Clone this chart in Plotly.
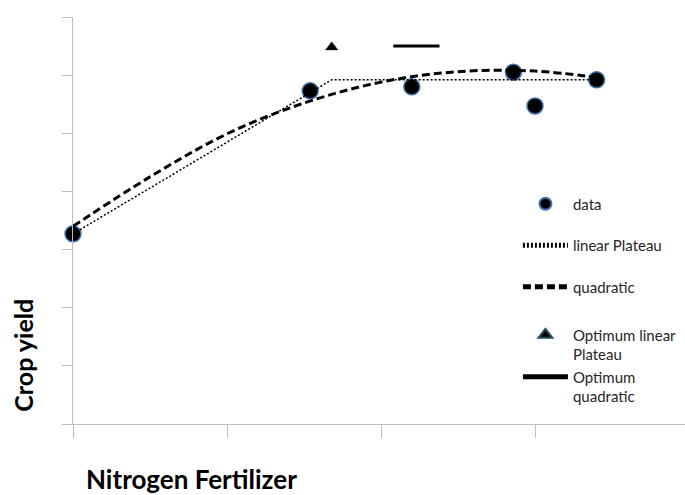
import plotly.graph_objects as go

# Observed yields at each nitrogen rate
n_rate = [0, 77, 110, 143, 150, 170]
yield_obs = [3.27, 5.73, 5.80, 6.05, 5.47, 5.92]

# Linear-plateau model: rising segment up to the join point, then flat
plateau_x = [0, 84, 170]
plateau_y = [3.27, 5.92, 5.92]

# Quadratic model curve
quad_x = [0, 25, 50, 75, 100, 125, 150, 170]
quad_y = [3.40, 4.25, 4.99, 5.52, 5.88, 6.06, 6.07, 5.96]

# Economic optima
opt_lp_x = [84]
opt_lp_y = [6.48]
opt_quad_x = [104, 119]
opt_quad_y = [6.50, 6.50]

FONT = "Lato"
AXIS_GREY = "#bdbdbd"
LEGEND_FONT = dict(family=FONT, size=15, color="#262626")

fig = go.Figure()

fig.add_trace(go.Scatter(
    x=n_rate, y=yield_obs, mode="markers", name="data",
    legendgroup="a", cliponaxis=False,
    marker=dict(size=16, color="black", line=dict(color="#3f72ae", width=1.5)),
))
fig.add_trace(go.Scatter(
    x=plateau_x, y=plateau_y, mode="lines", name="linear Plateau",
    legendgroup="b",
    line=dict(color="black", width=1.5, dash="2px,2px"),
))
fig.add_trace(go.Scatter(
    x=quad_x, y=quad_y, mode="lines", name="quadratic",
    legendgroup="c",
    line=dict(color="black", width=3, dash="8px,4px", shape="spline"),
))
fig.add_trace(go.Scatter(
    x=opt_lp_x, y=opt_lp_y, mode="markers", name="Optimum linear<br>Plateau",
    legendgroup="d", legend="legend2", cliponaxis=False,
    marker=dict(symbol="triangle-up", size=11, color="black",
                line=dict(color="#1f4e5a", width=0.5)),
))
fig.add_trace(go.Scatter(
    x=opt_quad_x, y=opt_quad_y, mode="lines", name="Optimum<br>quadratic",
    legendgroup="e", legend="legend2",
    line=dict(color="black", width=3),
))

axis_common = dict(
    showline=True, linecolor=AXIS_GREY, linewidth=1,
    ticks="outside", tickcolor=AXIS_GREY, tickwidth=1,
    showticklabels=False, showgrid=False, zeroline=False,
)

legend_common = dict(
    xanchor="left", yanchor="top", bgcolor="rgba(0,0,0,0)",
    valign="top", itemwidth=45, itemsizing="constant", font=LEGEND_FONT,
)

fig.update_layout(
    width=685, height=495,
    margin=dict(l=73, r=0, t=17, b=71),
    paper_bgcolor="white", plot_bgcolor="white",
    font=dict(family=FONT, color="#262626", size=15),
    xaxis=dict(range=[0, 198.7], dtick=50, tick0=0, ticklen=13, **axis_common),
    yaxis=dict(range=[0, 7], dtick=1, tick0=0, ticklen=10, **axis_common),
    showlegend=True,
    legend=dict(x=0.727, y=0.581, tracegroupgap=19, **legend_common),
    legend2=dict(x=0.727, y=0.259, tracegroupgap=0, **legend_common),
    annotations=[
        dict(text="<b>Nitrogen Fertilizer</b>", xref="paper", yref="paper",
             x=0.018, y=-0.135, xanchor="left", yanchor="middle",
             showarrow=False, font=dict(family=FONT, size=26, color="black")),
        dict(text="<b>Crop yield</b>", xref="paper", yref="paper",
             x=-0.082, y=0.170, xanchor="center", yanchor="middle",
             textangle=-90, showarrow=False,
             font=dict(family=FONT, size=25, color="black")),
    ],
)

fig.write_html("out.html")
